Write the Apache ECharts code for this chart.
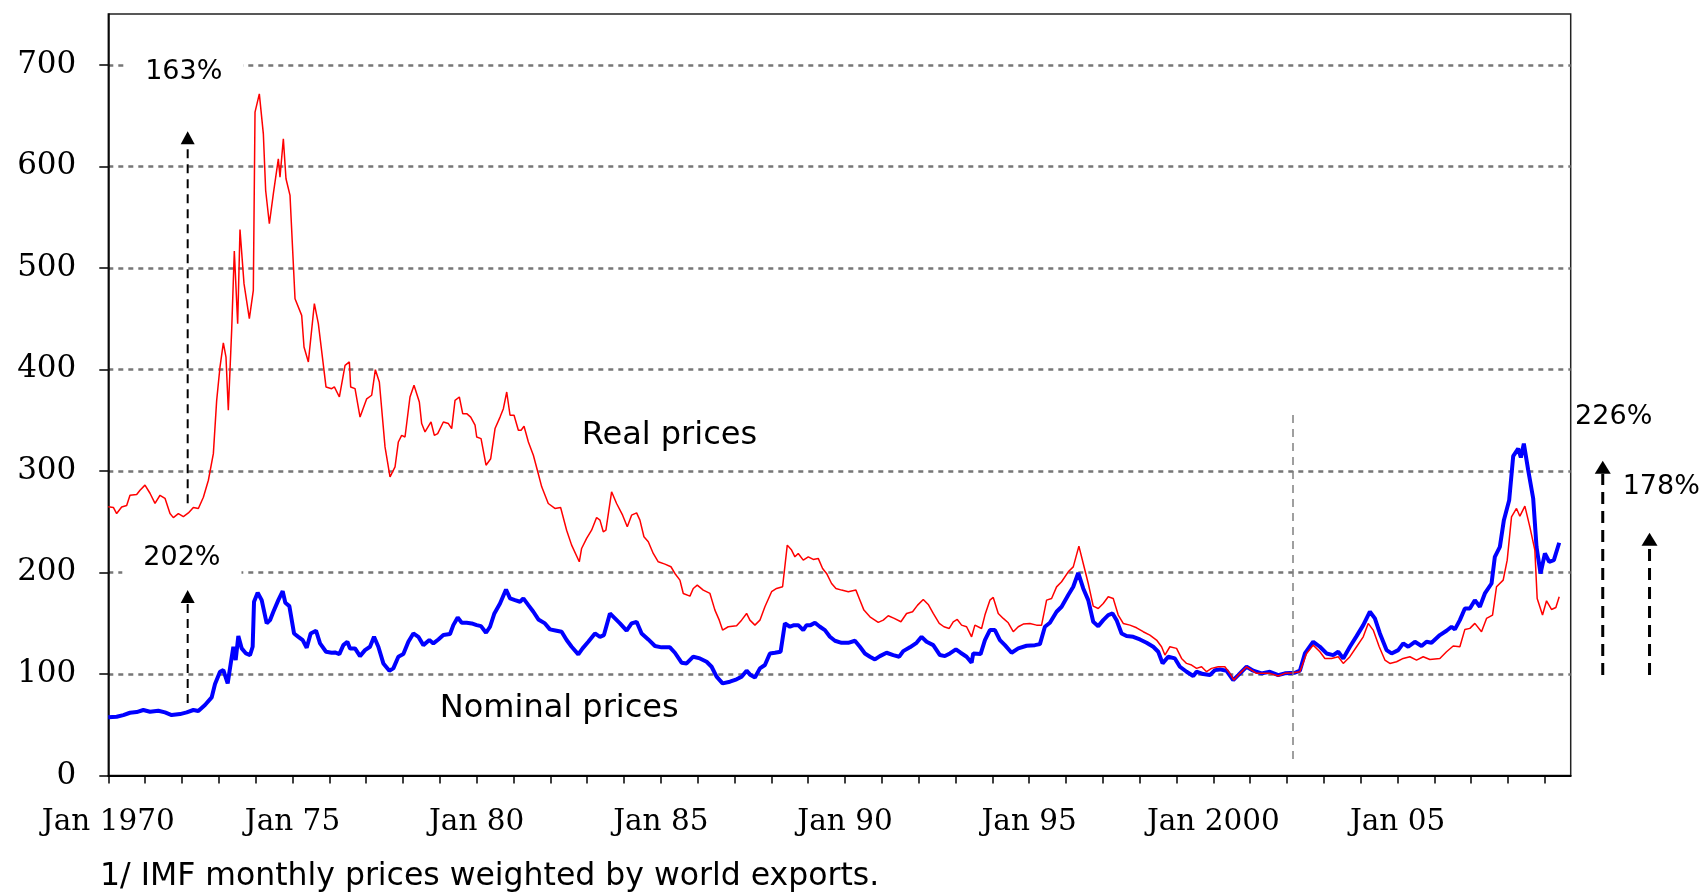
<!DOCTYPE html>
<html><head><meta charset="utf-8">
<script src="https://cdn.jsdelivr.net/npm/echarts@6/dist/echarts.min.js"></script>
<style>html,body{margin:0;padding:0;background:#fff}#c{width:1702px;height:892px}</style>
</head><body><div id="c"></div>
<script>
// ---- Nominal prices (IMF index, monthly) ----
const nominalYears = [
1970.000,1970.227,1970.408,1970.589,1970.770,1970.951,1971.132,1971.358,1971.539,1971.720,1971.947,1972.128,1972.309,1972.444,1972.625,1972.806,1972.897,
1973.033,1973.123,1973.241,1973.331,1973.395,1973.458,1973.530,1973.621,1973.738,1973.847,1973.919,1973.956,1974.055,1974.164,1974.300,1974.390,1974.481,
1974.616,1974.662,1974.734,1974.806,1974.915,1975.042,1975.159,1975.277,1975.386,1975.494,1975.639,1975.748,1975.910,1976.064,1976.155,1976.272,1976.381,
1976.490,1976.562,1976.698,1976.833,1976.969,1977.105,1977.214,1977.331,1977.467,1977.630,1977.738,1977.874,1978.010,1978.146,1978.281,1978.417,1978.553,
1978.716,1978.824,1978.960,1979.096,1979.277,1979.367,1979.485,1979.594,1979.729,1979.865,1980.001,1980.118,1980.254,1980.363,1980.481,1980.634,1980.797,
1980.906,1981.041,1981.177,1981.268,1981.404,1981.539,1981.675,1981.854,1981.989,1982.170,1982.306,1982.442,1982.578,1982.759,1982.876,1983.030,1983.211,
1983.347,1983.455,1983.618,1983.754,1983.890,1984.070,1984.206,1984.342,1984.478,1984.659,1984.840,1985.020,1985.247,1985.382,1985.563,1985.699,1985.880,
1986.061,1986.242,1986.378,1986.513,1986.676,1986.875,1987.056,1987.192,1987.328,1987.436,1987.554,1987.690,1987.825,1987.961,1988.097,1988.251,1988.368,
1988.504,1988.613,1988.730,1988.866,1988.957,1989.065,1989.183,1989.318,1989.454,1989.590,1989.726,1989.906,1990.088,1990.269,1990.404,1990.540,1990.676,
1990.812,1990.947,1991.128,1991.309,1991.472,1991.580,1991.761,1991.942,1992.078,1992.214,1992.395,1992.576,1992.711,1992.847,1993.010,1993.137,1993.300,
1993.436,1993.481,1993.680,1993.798,1993.933,1994.069,1994.205,1994.341,1994.522,1994.703,1994.929,1995.155,1995.291,1995.426,1995.562,1995.743,1995.879,
1996.060,1996.196,1996.331,1996.467,1996.603,1996.738,1996.874,1997.010,1997.145,1997.263,1997.372,1997.508,1997.643,1997.824,1998.005,1998.186,1998.367,
1998.503,1998.621,1998.774,1998.955,1999.091,1999.272,1999.453,1999.543,1999.724,1999.905,2000.041,2000.177,2000.358,2000.538,2000.674,2000.900,2001.081,
2001.308,2001.534,2001.760,2001.941,2002.212,2002.348,2002.484,2002.710,2002.891,2003.072,2003.253,2003.389,2003.525,2003.706,2003.887,2004.068,2004.249,
2004.384,2004.520,2004.701,2004.837,2005.018,2005.153,2005.289,2005.470,2005.651,2005.786,2005.922,2006.148,2006.329,2006.465,2006.556,2006.691,2006.827,
2006.963,2007.098,2007.234,2007.370,2007.551,2007.641,2007.777,2007.886,2008.030,2008.139,2008.274,2008.347,2008.428,2008.546,2008.682,2008.772,2008.881,
2009.000,2009.116,2009.243,2009.388];
const nominalValues = [
57.3,57.9,59.5,61.8,62.5,64.5,62.8,63.8,62.2,59.5,60.5,62.2,64.5,63.5,69.4,76.9,90.1,
102.2,103.8,90.7,112,126.8,113.7,137.3,125.2,120.2,118.6,126.8,171.1,180,172.7,149.8,153,161.3,
172.7,171.1,181.6,170.1,166.8,139.9,136.6,133.4,125.8,139.9,142.6,130.1,121.9,120.9,121.2,119.6,128.4,
131.7,125.2,125.2,117.6,123.5,126.8,136.6,126.8,110.4,103.2,105.5,117,119.6,131.7,139.9,136.6,128.4,
133.4,130.1,134,138.3,139.3,148.1,155.7,150.4,150.4,149.8,148.1,147.1,140.6,146.5,159.6,169.4,183.2,
174.4,172.7,171.1,174.4,167.8,161.3,153.7,149.8,143.9,142.6,141.6,133.4,126.8,119.3,125.2,131.7,139.9,
136.6,138.3,159.6,154.7,149.8,142.6,149.8,151.4,139.9,134,127.5,126.2,126.2,120.9,111.1,110.4,117,
115.3,112,107.1,97.3,90.7,92.4,94.7,97.3,103.2,98.9,96.6,105.5,108.8,120.2,120.9,121.9,149.8,
146.5,148.1,148.1,143.2,148.1,148.1,150.4,146.5,143.2,136.6,132.7,130.7,130.7,132.7,126.8,120.2,117,
114.3,117.6,120.9,118.6,117,122.5,126.2,130.7,136.6,131.7,128.4,118.6,117.6,120.2,124.2,120.9,117,
111.1,120.2,119.6,133.4,143.2,143.2,133.4,128.4,120.9,125.2,127.8,128.4,129.4,146.5,150.4,161.3,166.2,
177.7,185.9,199.6,184.2,172.7,151.4,147.1,153,158,159.6,153,139.9,137.3,136.6,134,130.7,126.8,
121.9,110.4,117,115.3,107.1,102.2,98,102.2,99.9,98.9,103.8,104.5,103.2,94,98.9,107.1,103.2,
100.6,102.2,98.9,100.6,101.2,103.2,120.2,131.7,126.8,120.2,118.6,121.9,115.3,126.8,137.3,148.1,161.3,
154.7,139.9,123.5,120.2,123.5,130.1,126.8,131.7,127.5,131.7,130.7,138.3,142.6,146.5,143.9,153,164.5,
164.5,172.7,166.2,179.3,189.1,215.4,225.2,251.5,271.2,314.5,322,313.2,326.9,300.7,272.8,225.2,199,
218.7,210.5,212.1,229.2];

// ---- Real prices ----
const realYears = [
1970.000,1970.137,1970.227,1970.363,1970.499,1970.589,1970.770,1970.861,1970.996,1971.132,1971.268,1971.404,1971.539,1971.675,1971.766,1971.902,1972.038,
1972.174,1972.309,1972.445,1972.581,1972.717,1972.852,1972.942,1973.032,1973.123,1973.195,1973.258,1973.349,1973.421,1973.512,1973.575,1973.684,1973.829,
1973.937,1973.983,1974.100,1974.209,1974.272,1974.372,1974.481,1974.616,1974.661,1974.752,1974.824,1974.933,1975.069,1975.250,1975.313,1975.431,1975.594,
1975.702,1975.910,1976.064,1976.137,1976.273,1976.427,1976.544,1976.580,1976.698,1976.834,1977.015,1977.150,1977.250,1977.358,1977.512,1977.648,1977.784,
1977.874,1977.964,1978.055,1978.190,1978.299,1978.444,1978.507,1978.598,1978.761,1978.851,1978.942,1979.096,1979.232,1979.322,1979.413,1979.530,1979.621,
1979.730,1979.838,1979.956,1980.001,1980.119,1980.254,1980.381,1980.499,1980.635,1980.725,1980.816,1980.906,1981.015,1981.132,1981.205,1981.286,1981.404,
1981.539,1981.648,1981.766,1981.944,1982.125,1982.279,1982.442,1982.578,1982.786,1982.849,1982.985,1983.120,1983.256,1983.347,1983.437,1983.509,1983.663,
1983.799,1983.962,1984.089,1984.206,1984.342,1984.432,1984.541,1984.659,1984.794,1984.930,1985.111,1985.274,1985.382,1985.518,1985.609,1985.790,1985.880,
1985.989,1986.152,1986.333,1986.468,1986.586,1986.676,1986.830,1987.056,1987.192,1987.328,1987.418,1987.554,1987.690,1987.825,1988.006,1988.142,1988.305,
1988.432,1988.549,1988.640,1988.730,1988.866,1989.002,1989.137,1989.273,1989.391,1989.499,1989.635,1989.753,1989.906,1990.088,1990.296,1990.386,1990.513,
1990.676,1990.902,1991.038,1991.173,1991.336,1991.517,1991.671,1991.834,1991.970,1992.124,1992.259,1992.395,1992.558,1992.685,1992.829,1992.938,1993.047,
1993.164,1993.300,1993.436,1993.526,1993.707,1993.798,1993.933,1994.024,1994.160,1994.296,1994.431,1994.567,1994.703,1994.838,1995.019,1995.200,1995.336,
1995.472,1995.608,1995.743,1995.879,1996.060,1996.196,1996.349,1996.467,1996.603,1996.738,1996.874,1997.010,1997.145,1997.281,1997.417,1997.553,1997.734,
1997.915,1998.095,1998.276,1998.457,1998.593,1998.684,1998.819,1999.000,1999.136,1999.272,1999.408,1999.543,1999.679,1999.815,1999.950,2000.131,2000.312,
2000.448,2000.557,2000.720,2000.900,2001.036,2001.172,2001.353,2001.534,2001.760,2001.941,2002.167,2002.348,2002.529,2002.710,2002.891,2003.027,2003.208,
2003.389,2003.525,2003.706,2003.887,2004.068,2004.203,2004.339,2004.502,2004.656,2004.791,2004.973,2005.153,2005.334,2005.515,2005.696,2005.877,2006.148,
2006.329,2006.510,2006.691,2006.827,2006.963,2007.098,2007.279,2007.415,2007.578,2007.686,2007.867,2007.976,2008.093,2008.229,2008.320,2008.456,2008.591,
2008.727,2008.790,2008.935,2009.044,2009.179,2009.297,2009.388];
const realValues = [
264.6,264,258,264.5,266,276,276.7,281,286,278,268,276,273,258,254,258,255,
258.6,264,263,274,290.8,317,369.5,402.3,426,412,359.7,438.4,516.5,445,537.8,484.4,449.9,
477.8,653.3,671.4,632,576.2,543.4,573,607.4,589.4,627,587.7,571.3,469.6,453.2,422,407.3,464.7,
445,382.7,381,382.7,372.8,404,407.3,382.7,381,353,371,374.5,399.7,387.6,323.6,294,304,
328.5,335,333.4,372.8,384.3,367.9,346.6,338.4,348.2,335,336.7,348.2,346.6,341.7,369.5,372.8,356.4,
356.4,353,345,333.4,331.8,305.6,312,341.7,353,361.3,377.7,354.8,354.8,340,340,344,328.5,
315.4,300.6,284.3,267.9,263,264,241.6,226.9,210.5,223.6,233.5,241.6,254.1,251.5,240,241.6,279.4,
267.9,256.4,245,256.4,258.7,251.5,235.1,230.2,218.7,210.5,208.2,205.6,199,192.4,179.3,176.7,184.2,
187.5,182.6,179.3,162.9,153,143.2,146.5,147.5,153,159.6,153,148.1,153,166.2,181,184.2,185.9,
226.9,222,215.4,218.7,212.1,215.4,212.8,213.8,203.9,199,189.1,184.2,182.6,181,182.6,174.4,162.9,
156.3,150.8,153,157.3,154.7,151.4,159.6,161.3,167.8,173.4,168.5,159.6,149.8,146.5,144.8,151.4,153.7,
148.1,146.5,136.6,148.1,144.8,158,172.7,175.4,159.6,154.7,150.4,141.6,146.5,149.1,149.8,148.1,148.1,
172.7,174.4,185.8,190.8,200.6,205.5,225.9,208.8,189.1,166.8,164.5,169.4,176,174.4,158,149.8,148.1,
145.5,141.6,138.3,133.4,126.8,118.6,126.8,125.2,115.3,110.4,108.8,105.5,107.1,102.2,105.5,107.1,107.1,
100.6,94,100.6,107.1,103.8,100.6,100.6,100.6,98,100.6,101.2,102.2,120.2,128.4,121.9,115.3,115.3,
117,110.4,117,126.8,136.6,149.8,143.2,126.8,113.7,110.4,112,115.3,117,113.7,117,114.3,115.3,
121.9,127.5,126.8,143.9,144.9,149.8,141.6,154.7,158,185.9,192.4,212.1,254.7,263,255.4,265.3,244.9,
221.9,174.4,158,172.1,163.5,165.5,176];

// ---- axes ----
const xTickYears = [];
for (let y = 1970; y <= 2009; y++) xTickYears.push(y);
const xLabelYears = [1970, 1975, 1980, 1985, 1990, 1995, 2000, 2005];
const yTickValues = [0, 100, 200, 300, 400, 500, 600, 700];

// ---- annotations (data coordinates) ----
const baseLineYear = 2002.15;
const baseLineRange = [13, 355];
const annotationTexts = [
  {text: '163%', x: 1971.0, y: 693, size: 27, bg: true},
  {text: '202%', x: 1970.95, y: 213.8, size: 27, bg: true},
  {text: '226%', x: 2009.82, y: 353, size: 27, bg: false},
  {text: '178%', x: 2011.11, y: 284.4, size: 27, bg: false},
  {text: 'Real prices', x: 1982.85, y: 335, size: 32, bg: false},
  {text: 'Nominal prices', x: 1979.0, y: 66, size: 32, bg: false}
];
const arrowSpecs = [
  {x: 1972.155, from: 268.2, to: 634.6, w: 2, dash: [9, 6], headW: 14, headH: 13},
  {x: 1972.155, from: 71.4, to: 182.6, w: 2, dash: [9, 6], headW: 14, headH: 13},
  {x: 2010.57, from: 99.0, to: 309.9, w: 3, dash: [12, 7], headW: 16, headH: 13},
  {x: 2011.84, from: 99.0, to: 239.2, w: 3, dash: [12, 7], headW: 16, headH: 13}
];
const footnote = '1/ IMF monthly prices weighted by world exports.';

function pairs(xs, ys) { return xs.map((x, i) => [x, ys[i]]); }

const chart = echarts.init(document.getElementById('c'), null, {renderer: 'canvas'});
const serifFont = 'DejaVu Serif';
const sansFont = 'DejaVu Sans';

chart.setOption({
  animation: false,
  backgroundColor: '#fff',
  title: {
    text: footnote, left: 100, top: 861, padding: 0,
    textStyle: {fontFamily: sansFont, fontSize: 31.5, fontWeight: 'normal', color: '#000'}
  },
  grid: {
    left: 108.3, right: 131.3, top: 14, bottom: 116.5,
    show: true, borderColor: '#222', borderWidth: 1.5, backgroundColor: 'transparent',
    containLabel: false, outerBoundsMode: 'none'
  },
  xAxis: {
    type: 'value', min: 1970, max: 2009.70, interval: 1, z: 2,
    axisLine: {show: true, onZero: false, lineStyle: {color: '#000', width: 2}},
    axisTick: {show: true, length: 8, inside: false, customValues: xTickYears, lineStyle: {color: '#000', width: 1.5}},
    axisLabel: {
      customValues: xLabelYears, margin: 32, color: '#000', fontFamily: serifFont, fontSize: 29.5,
      formatter: function (v) {
        if (v === 1970 || v === 2000) return 'Jan ' + v;
        if (xLabelYears.indexOf(v) < 0) return '';
        return 'Jan ' + String(v % 100).padStart(2, '0');
      }
    },
    splitLine: {show: false}
  },
  yAxis: {
    type: 'value', min: 0, max: 750, interval: 100, z: 1,
    axisLine: {show: true, lineStyle: {color: '#000', width: 1.5}},
    axisTick: {show: true, length: 9, inside: false, customValues: yTickValues, lineStyle: {color: '#000', width: 1.5}},
    axisLabel: {
      customValues: yTickValues, margin: 32, color: '#000', fontFamily: serifFont, fontSize: 31,
      formatter: function (v) { return yTickValues.indexOf(v) < 0 ? '' : String(v); }
    },
    splitLine: {show: true, showMinLine: false, showMaxLine: true, lineStyle: {color: '#777', width: 2.5, type: [5, 5]}}
  },
  series: [
    {
      name: 'Nominal prices', type: 'line', data: pairs(nominalYears, nominalValues),
      showSymbol: false, symbol: 'none', smooth: false, z: 3,
      lineStyle: {color: '#0000ff', width: 4}, itemStyle: {color: '#0000ff'}
    },
    {
      name: 'Real prices', type: 'line', data: pairs(realYears, realValues),
      showSymbol: false, symbol: 'none', smooth: false, z: 4,
      lineStyle: {color: '#ff0000', width: 1.5}, itemStyle: {color: '#ff0000'},
      markLine: {
        silent: true, symbol: ['none', 'none'], animation: false,
        label: {show: false},
        lineStyle: {color: '#808080', width: 1.5, type: [8, 6]},
        emphasis: {disabled: true},
        data: [[{coord: [baseLineYear, baseLineRange[1]]}, {coord: [baseLineYear, baseLineRange[0]]}]]
      }
    }
  ]
});

// annotations positioned through the chart's own scales
const g = [];
arrowSpecs.forEach(function (a) {
  const pb = chart.convertToPixel({gridIndex: 0}, [a.x, a.from]);
  const pt = chart.convertToPixel({gridIndex: 0}, [a.x, a.to]);
  g.push({
    type: 'line', z: 100, silent: true,
    shape: {x1: pb[0], y1: pb[1], x2: pt[0], y2: pt[1] + a.headH},
    style: {stroke: '#000', lineWidth: a.w, lineDash: a.dash}
  });
  g.push({
    type: 'polygon', z: 100, silent: true,
    shape: {points: [[pt[0], pt[1]], [pt[0] - a.headW / 2, pt[1] + a.headH], [pt[0] + a.headW / 2, pt[1] + a.headH]]},
    style: {fill: '#000'}
  });
});
annotationTexts.forEach(function (t) {
  const p = chart.convertToPixel({gridIndex: 0}, [t.x, t.y]);
  const st = {
    text: t.text, x: p[0], y: p[1], fill: '#000',
    font: t.size + 'px "' + sansFont + '"',
    align: 'left', verticalAlign: 'middle', textAlign: 'left', textVerticalAlign: 'middle'
  };
  if (t.bg) { st.backgroundColor = '#fff'; st.padding = [4, 21, 4, 21]; st.x = p[0] - 21; }
  g.push({type: 'text', z: 101, silent: true, style: st});
});
chart.setOption({graphic: g});
</script>
</body></html>
